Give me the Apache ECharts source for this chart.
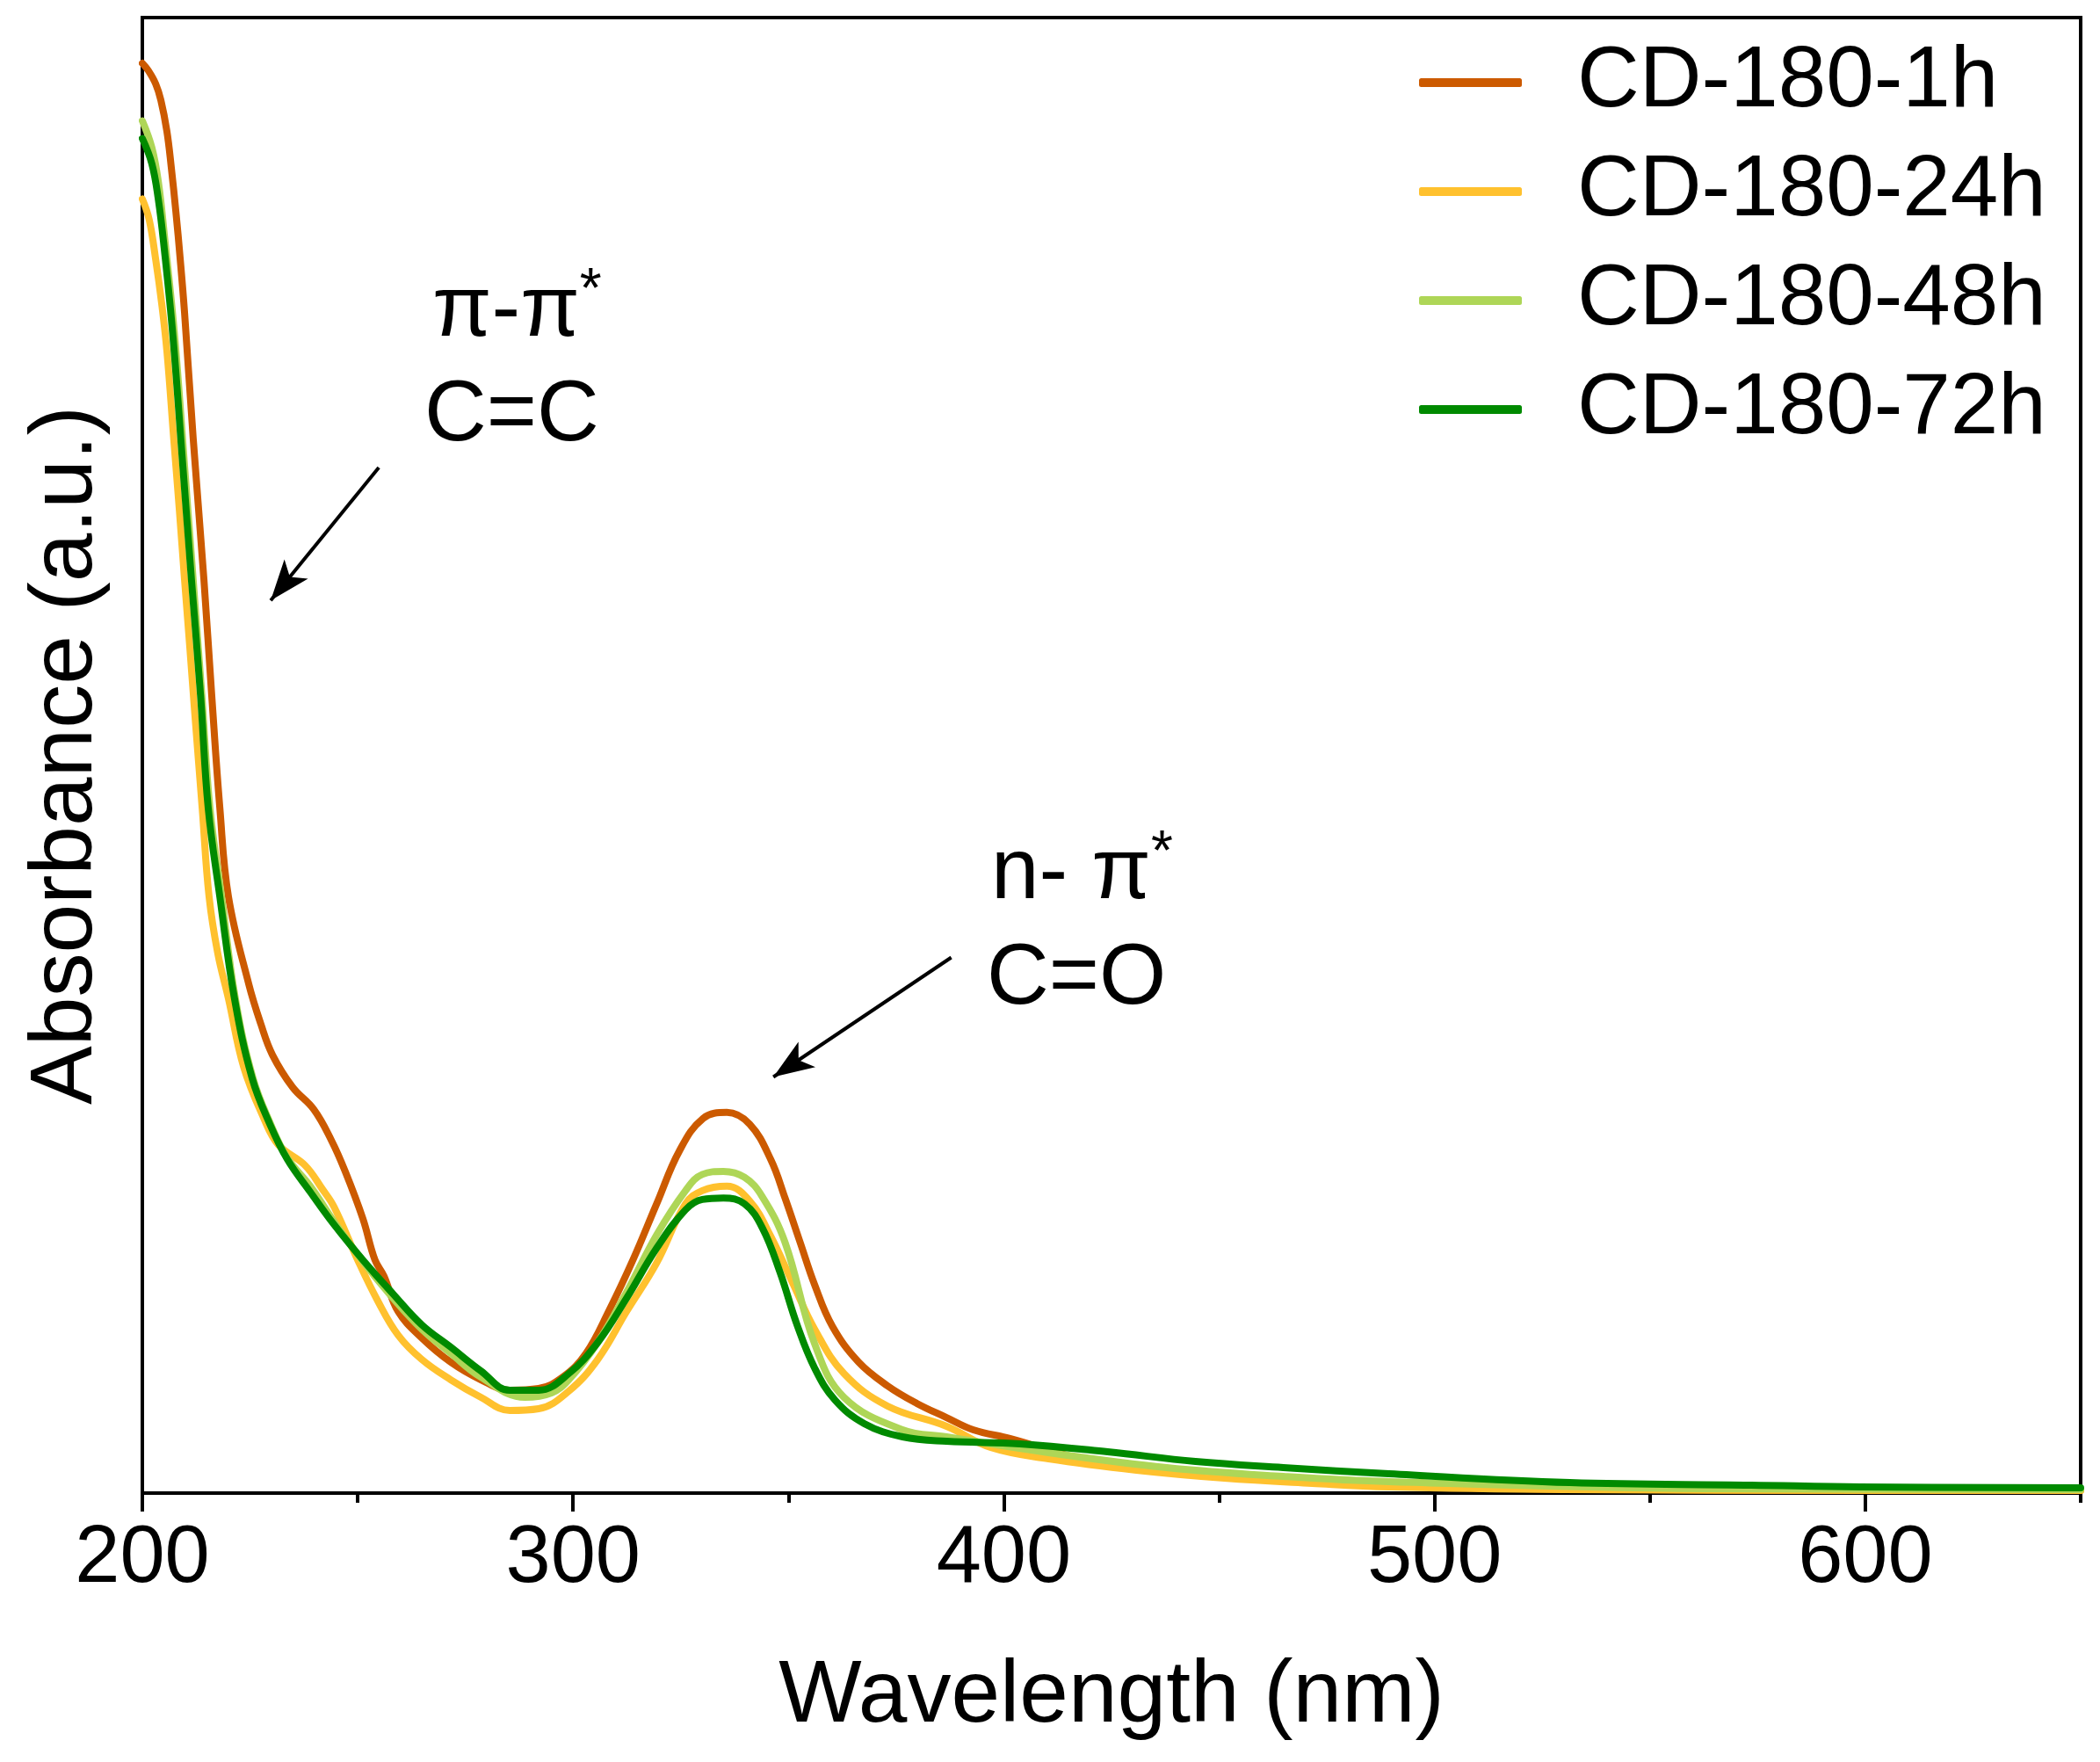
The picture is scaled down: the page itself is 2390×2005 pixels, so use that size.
<!DOCTYPE html>
<html>
<head>
  <meta charset="utf-8">
  <title>UV-Vis absorbance</title>
  <script src="https://cdn.jsdelivr.net/npm/echarts@6/dist/echarts.min.js"></script>
  <style>
    html, body { margin: 0; padding: 0; background: #fff; }
    #main { width: 2390px; height: 2005px; }
  </style>
</head>
<body>
<div id="main"></div>
<script>
// series names and colours
var seriesNames = ['CD-180-1h', 'CD-180-24h', 'CD-180-48h', 'CD-180-72h'];
var seriesColors = ['#CC5A00', '#FFC12E', '#AED657', '#008A00'];

// x axis ticks
var majorTicks = [200, 300, 400, 500, 600];
var minorTicks = [250, 350, 450, 550, 650];

// CD-180-1h
var wl1h = [200, 201.4, 203.1, 204.3, 205.7, 206.7, 207.8, 208.8, 209.8, 211.8, 214.3, 216.1, 218, 220, 224.7, 227.5, 230.2, 234.9, 239.8, 243.9, 247.1, 251.2, 254, 256.1, 259.4, 264.9, 271.6, 278.6, 285.3, 292, 297.6, 303, 308.4, 313.9, 319.4, 324.7, 330.2, 335.7, 341, 345.9, 349.2, 352.7, 356.1, 360.2, 366.3, 373, 379.8, 386.7, 392.9, 401.6, 420, 450, 500, 550, 600, 650];
var abs1h = [96.9, 96.4, 95.5, 94.4, 92.3, 89.9, 86.8, 83.6, 80.0, 71.5, 61.9, 54.1, 46.4, 40.4, 34.5, 31.8, 29.7, 27.5, 26.0, 23.9, 21.8, 18.6, 15.8, 14.7, 12.3, 10.5, 8.87, 7.68, 6.97, 7.09, 7.86, 9.47, 12.4, 15.8, 19.6, 23.2, 25.4, 25.8, 25.0, 22.6, 20.0, 17.0, 14.1, 11.3, 8.87, 7.27, 6.08, 5.12, 4.29, 3.69, 2.20, 1.13, 0.42, 0.24, 0.18, 0.18];

// CD-180-24h
var wl24h = [200, 201.6, 203.1, 204.5, 205.7, 207.3, 208.6, 209.8, 211, 212, 213.9, 215.5, 217.5, 220, 223.5, 228.2, 231.6, 237.8, 241.8, 244.5, 250, 254.7, 259.4, 264.9, 271.6, 278.6, 285.3, 292, 299, 305.7, 312.4, 319.4, 326.1, 330, 335.7, 341, 345.9, 351.2, 356.1, 362.9, 373, 386.7, 396.9, 410.4, 430.8, 451.2, 471.6, 489.4, 530, 600, 650];
var abs24h = [87.7, 86.3, 83.6, 80.6, 77.4, 71.4, 66.6, 61.9, 57.4, 53.5, 46.4, 40.4, 36.6, 33.5, 28.9, 25.4, 23.6, 22.2, 20.6, 19.4, 15.8, 13.0, 10.7, 9.05, 7.68, 6.49, 5.60, 5.72, 6.91, 9.05, 12.3, 15.6, 19.6, 20.5, 20.8, 19.8, 17.4, 14.1, 11.1, 8.10, 5.90, 4.53, 3.10, 2.32, 1.55, 1.01, 0.66, 0.42, 0.24, 0.18, 0.18];

// CD-180-48h
var wl48h = [200, 202.2, 203.7, 205.1, 207.5, 209.8, 211.8, 213.8, 215.7, 218.4, 221.6, 225.7, 229.8, 233.7, 239, 244.5, 251.2, 258.2, 264.9, 271.6, 278.6, 288.8, 295, 299, 305.7, 312.4, 319.4, 326.1, 330, 334.9, 339.8, 343.9, 349.2, 356.1, 362.9, 376.5, 386.7, 410.4, 437.8, 464.9, 489.4, 563, 650];
var abs48h = [93.0, 91.2, 88.9, 85.3, 78.4, 69.6, 61.9, 54.1, 46.4, 40.4, 33.5, 28.1, 25.0, 22.7, 20.8, 18.4, 15.7, 13.2, 11.1, 9.47, 7.86, 6.49, 6.79, 7.68, 10.2, 13.6, 17.5, 20.5, 21.6, 21.8, 21.4, 20.1, 17.0, 10.1, 6.49, 4.29, 3.81, 2.74, 1.73, 1.13, 0.77, 0.30, 0.24];

// CD-180-72h
var wl72h = [200, 202.2, 203.7, 205.1, 207.1, 209.4, 211.4, 213.5, 215.3, 218, 221.4, 225.5, 229.6, 233.7, 239, 244.5, 251.2, 258.2, 264.9, 271.6, 278.6, 285.3, 292, 299, 305.7, 312.4, 319.4, 326.1, 330, 334.9, 339.8, 343.9, 348, 352, 356.1, 360.8, 367.6, 376.5, 386.7, 403.7, 424.1, 444.5, 464.9, 489.4, 531.4, 573.5, 598.8, 650];
var abs72h = [91.8, 90.1, 87.7, 84.3, 78.4, 69.6, 61.9, 54.1, 46.4, 40.4, 33.5, 28.1, 25.0, 22.6, 20.4, 18.2, 15.8, 13.5, 11.4, 9.89, 8.28, 6.97, 6.97, 8.10, 10.2, 13.2, 16.6, 19.2, 19.9, 20.0, 19.6, 18.0, 15.0, 11.4, 8.46, 6.31, 4.71, 3.81, 3.51, 3.34, 2.80, 2.14, 1.73, 1.31, 0.71, 0.54, 0.42, 0.36];

function zip(xs, ys) {
  var out = [];
  for (var i = 0; i < xs.length; i++) out.push([xs[i], ys[i]]);
  return out;
}

var wls = [wl1h, wl24h, wl48h, wl72h];
var absv = [abs1h, abs24h, abs48h, abs72h];

var FONT = '"Liberation Sans", Arial, sans-serif';

var chart = echarts.init(document.getElementById('main'));

var series = [];
for (var i = 0; i < seriesNames.length; i++) {
  series.push({
    name: seriesNames[i],
    type: 'line',
    xAxisIndex: 0,
    data: zip(wls[i], absv[i]),
    smooth: 0.4,
    showSymbol: false,
    symbol: 'none',
    color: seriesColors[i],
    lineStyle: { width: 8, color: seriesColors[i], cap: 'round', join: 'round' },
    z: 2 + i
  });
}

// arrows in data coordinates
series.push({
  type: 'line',
  xAxisIndex: 0,
  data: [],
  silent: true,
  markLine: {
    silent: true,
    symbol: ['none', 'arrow'],
    symbolSize: [26, 46],
    label: { show: false },
    lineStyle: { color: '#000', width: 4, type: 'solid' },
    data: [
      [{ coord: [254.9, 69.5] }, { coord: [229.8, 60.5] }],
      [{ coord: [387.8, 36.3] }, { coord: [346.5, 28.2] }]
    ]
  }
});

var option = {
  backgroundColor: '#fff',
  animation: false,
  grid: {
    left: 162, right: 22, top: 20, bottom: 306,
    show: true, borderColor: '#000', borderWidth: 4,
    containLabel: false
  },
  legend: {
    orient: 'vertical',
    left: 1610,
    top: 40,
    itemWidth: 117,
    itemHeight: 10,
    itemGap: 26,
    icon: 'roundRect',
    data: seriesNames,
    textStyle: {
      fontFamily: FONT, fontSize: 98, color: '#000',
      lineHeight: 98, padding: [0, 0, 0, 58]
    }
  },
  xAxis: [{
    type: 'value',
    min: 200, max: 650, interval: 100,
    name: 'Wavelength (nm)',
    nameLocation: 'middle',
    nameGap: 182,
    nameTextStyle: { fontFamily: FONT, fontSize: 100, color: '#000' },
    splitLine: { show: false },
    axisLine: { show: true, onZero: false, lineStyle: { color: '#000', width: 4 } },
    axisTick: { show: true, inside: false, length: 21, lineStyle: { color: '#000', width: 4 }, customValues: majorTicks },
    axisLabel: { fontFamily: FONT, fontSize: 92, color: '#000', margin: 30, customValues: majorTicks }
  }, {
    type: 'value',
    min: 200, max: 650, interval: 50,
    position: 'bottom',
    splitLine: { show: false },
    axisLine: { show: false },
    axisTick: { show: true, inside: false, length: 11, lineStyle: { color: '#000', width: 4 }, customValues: minorTicks },
    axisLabel: { show: false }
  }],
  yAxis: {
    type: 'value',
    min: 0, max: 100,
    name: 'Absorbance (a.u.)',
    nameLocation: 'middle',
    nameGap: 36,
    nameTextStyle: { fontFamily: FONT, fontSize: 100, color: '#000' },
    splitLine: { show: false },
    axisLine: { show: true, lineStyle: { color: '#000', width: 4 } },
    axisTick: { show: false },
    axisLabel: { show: false }
  },
  graphic: [
    {
      type: 'text', left: 492, top: 300, z: 10,
      style: {
        text: '{m|π-π}{s|*}',
        rich: {
          m: { fontFamily: FONT, fontSize: 98, fill: '#000' },
          s: { fontFamily: FONT, fontSize: 64, fill: '#000', padding: [0, 0, 46, 0] }
        }
      }
    },
    {
      type: 'text', left: 483, top: 425, z: 10,
      style: { text: 'C=C', fontFamily: FONT, fontSize: 98, fill: '#000' }
    },
    {
      type: 'text', left: 1128, top: 940, z: 10,
      style: {
        text: '{m|n- π}{s|*}',
        rich: {
          m: { fontFamily: FONT, fontSize: 98, fill: '#000' },
          s: { fontFamily: FONT, fontSize: 64, fill: '#000', padding: [0, 0, 46, 0] }
        }
      }
    },
    {
      type: 'text', left: 1123, top: 1066, z: 10,
      style: { text: 'C=O', fontFamily: FONT, fontSize: 98, fill: '#000' }
    }
  ],
  series: series
};

chart.setOption(option);
</script>
</body>
</html>
